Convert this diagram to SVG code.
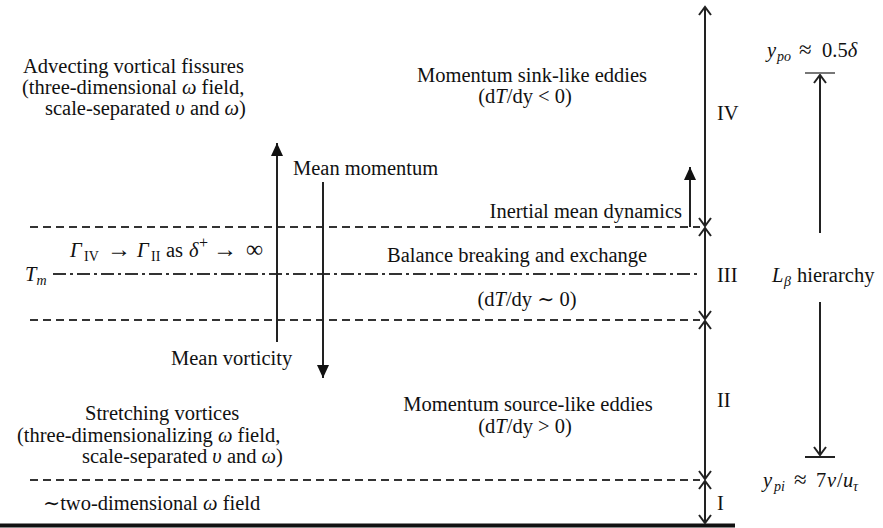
<svg xmlns="http://www.w3.org/2000/svg" width="883" height="528" viewBox="0 0 883 528">
<style>
.t{font-family:'Liberation Serif','DejaVu Serif',serif;font-size:20.5px;fill:#111}
.i{font-style:italic}
.s{font-size:14px}
.a{font-size:24px}
.m{text-anchor:middle}
.e{text-anchor:end}
.dash{stroke:#333;stroke-width:2;stroke-dasharray:8 5;fill:none}
.dd{stroke:#333;stroke-width:2.2;stroke-dasharray:13 4 3 4;fill:none}
.ln{stroke:#222;stroke-width:2;fill:none}
</style>
<defs>
<marker id="chev" viewBox="-10 -7 12 14" refX="0" refY="0" markerWidth="12" markerHeight="14" markerUnits="userSpaceOnUse" orient="auto-start-reverse">
<path d="M-8,-6 L0,0 L-8,6" fill="none" stroke="#222" stroke-width="2"/>
</marker>
<marker id="tri" viewBox="-14 -7 15 14" refX="0" refY="0" markerWidth="15" markerHeight="14" markerUnits="userSpaceOnUse" orient="auto">
<path d="M-13,-6 L0,0 L-13,6 Z" fill="#111"/>
</marker>
</defs>
<rect width="883" height="528" fill="#fff"/>
<g id="connectors">
<line class="dash" x1="30" y1="227" x2="700" y2="227"/>
<line class="dd" x1="53" y1="274" x2="700" y2="274"/>
<line class="dash" x1="30" y1="320" x2="700" y2="320"/>
<line class="dash" x1="30" y1="480" x2="700" y2="480"/>
<line x1="0" y1="525.5" x2="735" y2="525.5" stroke="#111" stroke-width="4"/>
<line class="ln" x1="705" y1="7" x2="705" y2="226" marker-start="url(#chev)" marker-end="url(#chev)"/>
<line class="ln" x1="705" y1="228" x2="705" y2="319" marker-start="url(#chev)" marker-end="url(#chev)"/>
<line class="ln" x1="705" y1="321" x2="705" y2="479" marker-start="url(#chev)" marker-end="url(#chev)"/>
<line class="ln" x1="705" y1="481" x2="705" y2="523" marker-start="url(#chev)" marker-end="url(#chev)"/>
<line class="ln" x1="277" y1="342" x2="277" y2="143" marker-end="url(#tri)"/>
<line class="ln" x1="323" y1="182" x2="323" y2="378" marker-end="url(#tri)"/>
<line class="ln" x1="690" y1="227" x2="690" y2="167" marker-end="url(#tri)"/>
<line class="ln" x1="820" y1="233" x2="820" y2="75" marker-end="url(#chev)"/>
<line class="ln" x1="820" y1="302" x2="820" y2="455" marker-end="url(#chev)"/>
<line x1="805" y1="73" x2="835" y2="73" stroke="#777" stroke-width="2"/>
<line x1="805" y1="457" x2="835" y2="457" stroke="#222" stroke-width="2"/>
</g>
<g id="region-IV">
<text class="t" x="23" y="73">Advecting vortical fissures</text>
<text class="t" x="22" y="94">(three-dimensional <tspan class="i">ω</tspan> field,</text>
<text class="t" x="45" y="115">scale-separated <tspan class="i">υ</tspan> and <tspan class="i">ω</tspan>)</text>
<text class="t m" x="532" y="82">Momentum sink-like eddies</text>
<text class="t m" x="525" y="103">(d<tspan class="i">T</tspan>/dy &lt; 0)</text>
<text class="t" x="717" y="120">IV</text>
</g>
<g id="mean-momentum">
<text class="t" x="293" y="175">Mean momentum</text>
</g>
<g id="inertial">
<text class="t e" x="682" y="218">Inertial mean dynamics</text>
</g>
<g id="region-III">
<text class="t" y="257"><tspan class="i" x="70">Γ</tspan><tspan class="s" x="84" dy="4">IV</tspan><tspan class="a" x="107" dy="-4">→</tspan><tspan class="i" x="137">Γ</tspan><tspan class="s" x="151" dy="4">II</tspan><tspan x="166" dy="-4">as</tspan><tspan class="i" x="189">δ</tspan><tspan font-size="16" x="199" dy="-9">+</tspan><tspan class="a" x="213" dy="9">→</tspan><tspan class="a" x="246">∞</tspan></text>
<text class="t" x="25" y="281"><tspan class="i">T</tspan><tspan class="s i" dy="4">m</tspan></text>
<text class="t" x="387" y="262">Balance breaking and exchange</text>
<text class="t m" x="527" y="306">(d<tspan class="i">T</tspan>/dy ∼ 0)</text>
<text class="t" x="717" y="282">III</text>
</g>
<g id="mean-vorticity">
<text class="t" x="171" y="365">Mean vorticity</text>
</g>
<g id="region-II">
<text class="t m" x="528" y="411">Momentum source-like eddies</text>
<text class="t m" x="525" y="433">(d<tspan class="i">T</tspan>/dy &gt; 0)</text>
<text class="t" x="85" y="420">Stretching vortices</text>
<text class="t" x="17" y="442">(three-dimensionalizing <tspan class="i">ω</tspan> field,</text>
<text class="t" x="82" y="463">scale-separated <tspan class="i">υ</tspan> and <tspan class="i">ω</tspan>)</text>
<text class="t" x="717" y="407">II</text>
</g>
<g id="region-I">
<text class="t" x="43" y="510">∼two-dimensional <tspan class="i">ω</tspan> field</text>
<text class="t" x="717" y="510">I</text>
</g>
<g id="hierarchy">
<text class="t" y="57"><tspan class="i" x="767">y</tspan><tspan class="s i" x="777" dy="4">po</tspan><tspan x="799" dy="-4" font-size="23">≈</tspan><tspan x="822">0.5</tspan><tspan class="i">δ</tspan></text>
<text class="t" y="282"><tspan class="i" x="772">L</tspan><tspan class="s i" x="784" dy="4">β</tspan><tspan x="797" dy="-4">hierarchy</tspan></text>
<text class="t" y="487"><tspan class="i" x="763">y</tspan><tspan class="s i" x="774" dy="4">pi</tspan><tspan x="794" dy="-4" font-size="23">≈</tspan><tspan x="816">7</tspan><tspan class="i" x="827">ν</tspan><tspan x="837">/</tspan><tspan class="i" x="843">u</tspan><tspan class="s i" x="853" dy="4">τ</tspan></text>
</g>
</svg>
